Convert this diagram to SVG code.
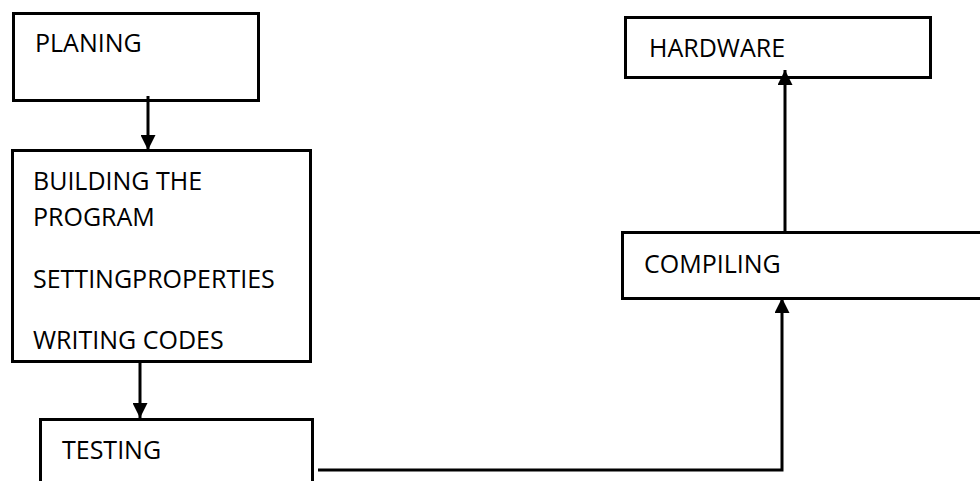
<svg xmlns="http://www.w3.org/2000/svg" width="980" height="481" viewBox="0 0 980 481">
  <style>
    .box { fill: #ffffff; stroke: #000000; stroke-width: 3; }
    .label { font-family: "Open Sans", "Liberation Sans", sans-serif; font-size: 25px; fill: #000000; }
    .wire { fill: none; stroke: #000000; stroke-width: 3; }
  </style>
  <defs>
    <marker id="arrow" viewBox="0 0 10 10" refX="10" refY="5" markerWidth="5" markerHeight="5" markerUnits="strokeWidth" orient="auto">
      <path d="M0,0 L10,5 L0,10 Z" fill="#000000"/>
    </marker>
  </defs>

  <g id="node-planing">
    <rect class="box" x="13.5" y="13.5" width="245" height="87"/>
    <text class="label" x="35" y="52">PLANING</text>
  </g>

  <g id="node-building">
    <rect class="box" x="12.5" y="150.5" width="298" height="211"/>
    <text class="label" x="33" y="190">BUILDING THE</text>
    <text class="label" x="33" y="226">PROGRAM</text>
    <text class="label" x="33" y="288">SETTINGPROPERTIES</text>
    <text class="label" x="33" y="349">WRITING CODES</text>
  </g>

  <g id="node-testing">
    <rect class="box" x="40.5" y="419.5" width="272" height="70"/>
    <text class="label" x="62" y="459">TESTING</text>
  </g>

  <g id="node-compiling">
    <rect class="box" x="622.5" y="232.5" width="370" height="66"/>
    <text class="label" x="644" y="273">COMPILING</text>
  </g>

  <g id="node-hardware">
    <rect class="box" x="625.5" y="17.5" width="305" height="60"/>
    <text class="label" x="649" y="57">HARDWARE</text>
  </g>

  <g id="connectors">
    <line class="wire" x1="148" y1="96" x2="148" y2="150" marker-end="url(#arrow)"/>
    <line class="wire" x1="140" y1="361" x2="140" y2="418" marker-end="url(#arrow)"/>
    <polyline class="wire" points="318,470 782,470 782,298" marker-end="url(#arrow)"/>
    <line class="wire" x1="785" y1="232" x2="785" y2="70" marker-end="url(#arrow)"/>
  </g>
</svg>
